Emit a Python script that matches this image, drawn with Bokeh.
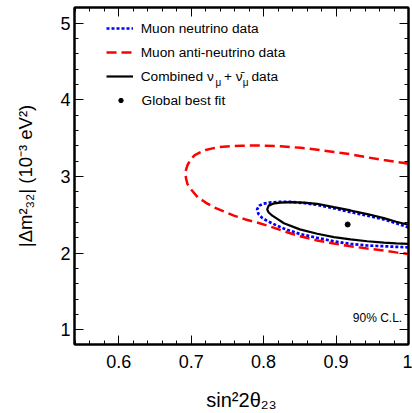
import numpy as np
from bokeh.plotting import figure
from bokeh.models import Range1d, LinearAxis, FixedTicker, Legend, LegendItem, Label
from bokeh.embed import file_html
from bokeh.resources import INLINE

# ---------------- data ----------------
x_ticks = [0.6, 0.7, 0.8, 0.9, 1.0]
x_tick_labels = ["0.6", "0.7", "0.8", "0.9", "1"]
y_ticks = [1, 2, 3, 4, 5]
y_tick_labels = ["1", "2", "3", "4", "5"]

# Muon neutrino data (90% C.L. contour)
numu_x = [1.000, 0.983, 0.966, 0.943, 0.920, 0.897, 0.874, 0.855, 0.837, 0.820,
          0.810, 0.800, 0.794, 0.791, 0.793, 0.798, 0.805, 0.815, 0.828, 0.850,
          0.874, 0.897, 0.920, 0.943, 0.966, 1.000]
numu_y = [2.335, 2.390, 2.440, 2.490, 2.535, 2.585, 2.630, 2.655, 2.668, 2.668,
          2.662, 2.645, 2.620, 2.570, 2.510, 2.460, 2.420, 2.375, 2.320, 2.250,
          2.200, 2.155, 2.120, 2.100, 2.090, 2.075]

# Muon anti-neutrino data
anti_x = [1.000, 0.994, 0.966, 0.943, 0.920, 0.897, 0.869, 0.851, 0.823, 0.800,
          0.786, 0.770, 0.754, 0.740, 0.731, 0.720, 0.713, 0.705, 0.700, 0.695,
          0.692, 0.693, 0.695, 0.700, 0.709, 0.720, 0.731, 0.745, 0.759, 0.775,
          0.791, 0.810, 0.828, 0.850, 0.874, 0.897, 0.920, 0.943, 0.966, 0.983,
          1.000]
anti_y = [3.165, 3.175, 3.215, 3.250, 3.290, 3.320, 3.355, 3.374, 3.395, 3.403,
          3.404, 3.402, 3.395, 3.385, 3.370, 3.345, 3.317, 3.280, 3.230, 3.150,
          3.060, 2.970, 2.900, 2.830, 2.730, 2.660, 2.600, 2.545, 2.490, 2.440,
          2.400, 2.345, 2.285, 2.220, 2.166, 2.125, 2.090, 2.060, 2.035, 2.010,
          1.990]

# Combined data
comb_x = [1.000, 0.983, 0.966, 0.943, 0.920, 0.897, 0.874, 0.855, 0.837, 0.823,
          0.813, 0.807, 0.805, 0.807, 0.812, 0.820, 0.828, 0.850, 0.874, 0.897,
          0.920, 0.943, 0.966, 0.983, 1.000]
comb_y = [2.370, 2.410, 2.457, 2.510, 2.557, 2.600, 2.644, 2.660, 2.665, 2.660,
          2.645, 2.620, 2.570, 2.530, 2.490, 2.440, 2.390, 2.310, 2.253, 2.210,
          2.180, 2.155, 2.137, 2.127, 2.120]

best_x = [0.916]
best_y = [2.374]

FONT = "Liberation Sans"
LEG_SIZE = "13.7px"

# ---------------- figure ----------------
p = figure(width=412, height=413,
           x_range=Range1d(0.539, 1.0), y_range=Range1d(0.808, 5.205),
           output_backend="svg", toolbar_location=None,
           min_border_left=74, min_border_right=4, min_border_top=7, min_border_bottom=69,
           background_fill_color="white", border_fill_color="white")
p.grid.visible = False
p.outline_line_color = "black"
p.outline_line_width = 2

x_minor = list(np.round(np.arange(27, 51) * 0.02, 2))
y_minor = list(np.round(np.arange(4, 27) * 0.2, 1))
xt = FixedTicker(ticks=x_ticks, minor_ticks=x_minor)
yt = FixedTicker(ticks=y_ticks, minor_ticks=y_minor)


def style_axis(ax, ticker):
    ax.ticker = ticker
    ax.major_tick_in = 9
    ax.major_tick_out = 0
    ax.minor_tick_in = 4
    ax.minor_tick_out = 0
    ax.major_tick_line_color = "black"
    ax.minor_tick_line_color = "black"
    ax.axis_line_color = "black"
    ax.axis_line_width = 2


xa = p.xaxis[0]
style_axis(xa, xt)
xa.major_label_overrides = dict(zip(x_ticks, x_tick_labels))
xa.major_label_standoff = 10
xa.major_label_text_font = FONT
xa.major_label_text_font_size = "18px"
xa.major_label_text_color = "black"
xa.axis_label = "sin²2θ₂₃"
xa.axis_label_text_font = FONT
xa.axis_label_text_font_size = "20px"
xa.axis_label_text_font_style = "normal"
xa.axis_label_text_color = "black"
xa.axis_label_standoff = 18

ya = p.yaxis[0]
style_axis(ya, yt)
ya.major_label_overrides = dict(zip(y_ticks, y_tick_labels))
ya.major_label_standoff = 4
ya.major_label_text_font = FONT
ya.major_label_text_font_size = "18px"
ya.major_label_text_color = "black"
ya.axis_label = "|Δm²₃₂| (10⁻³ eV²)"
ya.axis_label_text_font = FONT
ya.axis_label_text_font_size = "18.5px"
ya.axis_label_text_font_style = "normal"
ya.axis_label_text_color = "black"
ya.axis_label_standoff = 21

for place, tk in (("above", xt), ("right", yt)):
    ax = LinearAxis()
    style_axis(ax, tk)
    ax.major_label_text_color = None
    ax.major_label_text_font_size = "1px"
    ax.major_label_standoff = 0
    p.add_layout(ax, place)

# ---------------- glyphs ----------------
r_numu = p.line(numu_x, numu_y, line_color="#0000ff", line_width=2.7, line_dash="3 2")
r_anti = p.line(anti_x, anti_y, line_color="#ff0000", line_width=2.5, line_dash="10 5")
r_comb = p.line(comb_x, comb_y, line_color="black", line_width=2.2)
r_best = p.scatter(best_x, best_y, size=5, color="black")


def style_legend(lg):
    lg.padding = 0
    lg.margin = 0
    lg.border_line_color = None
    lg.background_fill_alpha = 0
    lg.label_text_font = FONT
    lg.label_text_font_size = LEG_SIZE
    lg.label_text_color = "black"
    lg.label_text_baseline = "middle"


# lines legend (rows 1-3)
leg_lines = Legend(items=[
    LegendItem(label="Muon neutrino data", renderers=[r_numu]),
    LegendItem(label="Muon anti-neutrino data", renderers=[r_anti]),
    LegendItem(label="Combined ν", renderers=[r_comb]),
], location=(31.7, 257.7))
style_legend(leg_lines)
leg_lines.glyph_width = 27
leg_lines.glyph_height = 20
leg_lines.label_height = 20
leg_lines.label_standoff = 8
leg_lines.spacing = 4
p.add_layout(leg_lines)

# marker legend (row 4)
leg_dot = Legend(items=[
    LegendItem(label="Global best fit", renderers=[r_best]),
], location=(40.5, 234))
style_legend(leg_dot)
leg_dot.glyph_width = 11
leg_dot.glyph_height = 20
leg_dot.label_height = 20
leg_dot.label_standoff = 16
leg_dot.spacing = 0
p.add_layout(leg_dot)

# rest of the combined label: nu_mu + anti-nu_mu data
row3_mid = 267.7
for sx, txt in ((149.5, "+ ν̄"), (177.0, "data")):
    p.add_layout(Label(x=sx, y=row3_mid, x_units="screen", y_units="screen", text=txt,
                       text_font=FONT, text_font_size=LEG_SIZE, text_color="black",
                       text_baseline="middle", text_align="left"))
for sx in (141.0, 168.2):
    p.add_layout(Label(x=sx, y=262, x_units="screen", y_units="screen", text="μ",
                       text_font=FONT, text_font_size="10px", text_color="black",
                       text_baseline="alphabetic", text_align="left"))

p.add_layout(Label(x=327.7, y=27, x_units="screen", y_units="screen", text="90% C.L.",
                   text_font=FONT, text_font_size="12px", text_color="black",
                   text_baseline="alphabetic", text_align="right"))

open("out.html", "w").write(file_html(p, INLINE))
